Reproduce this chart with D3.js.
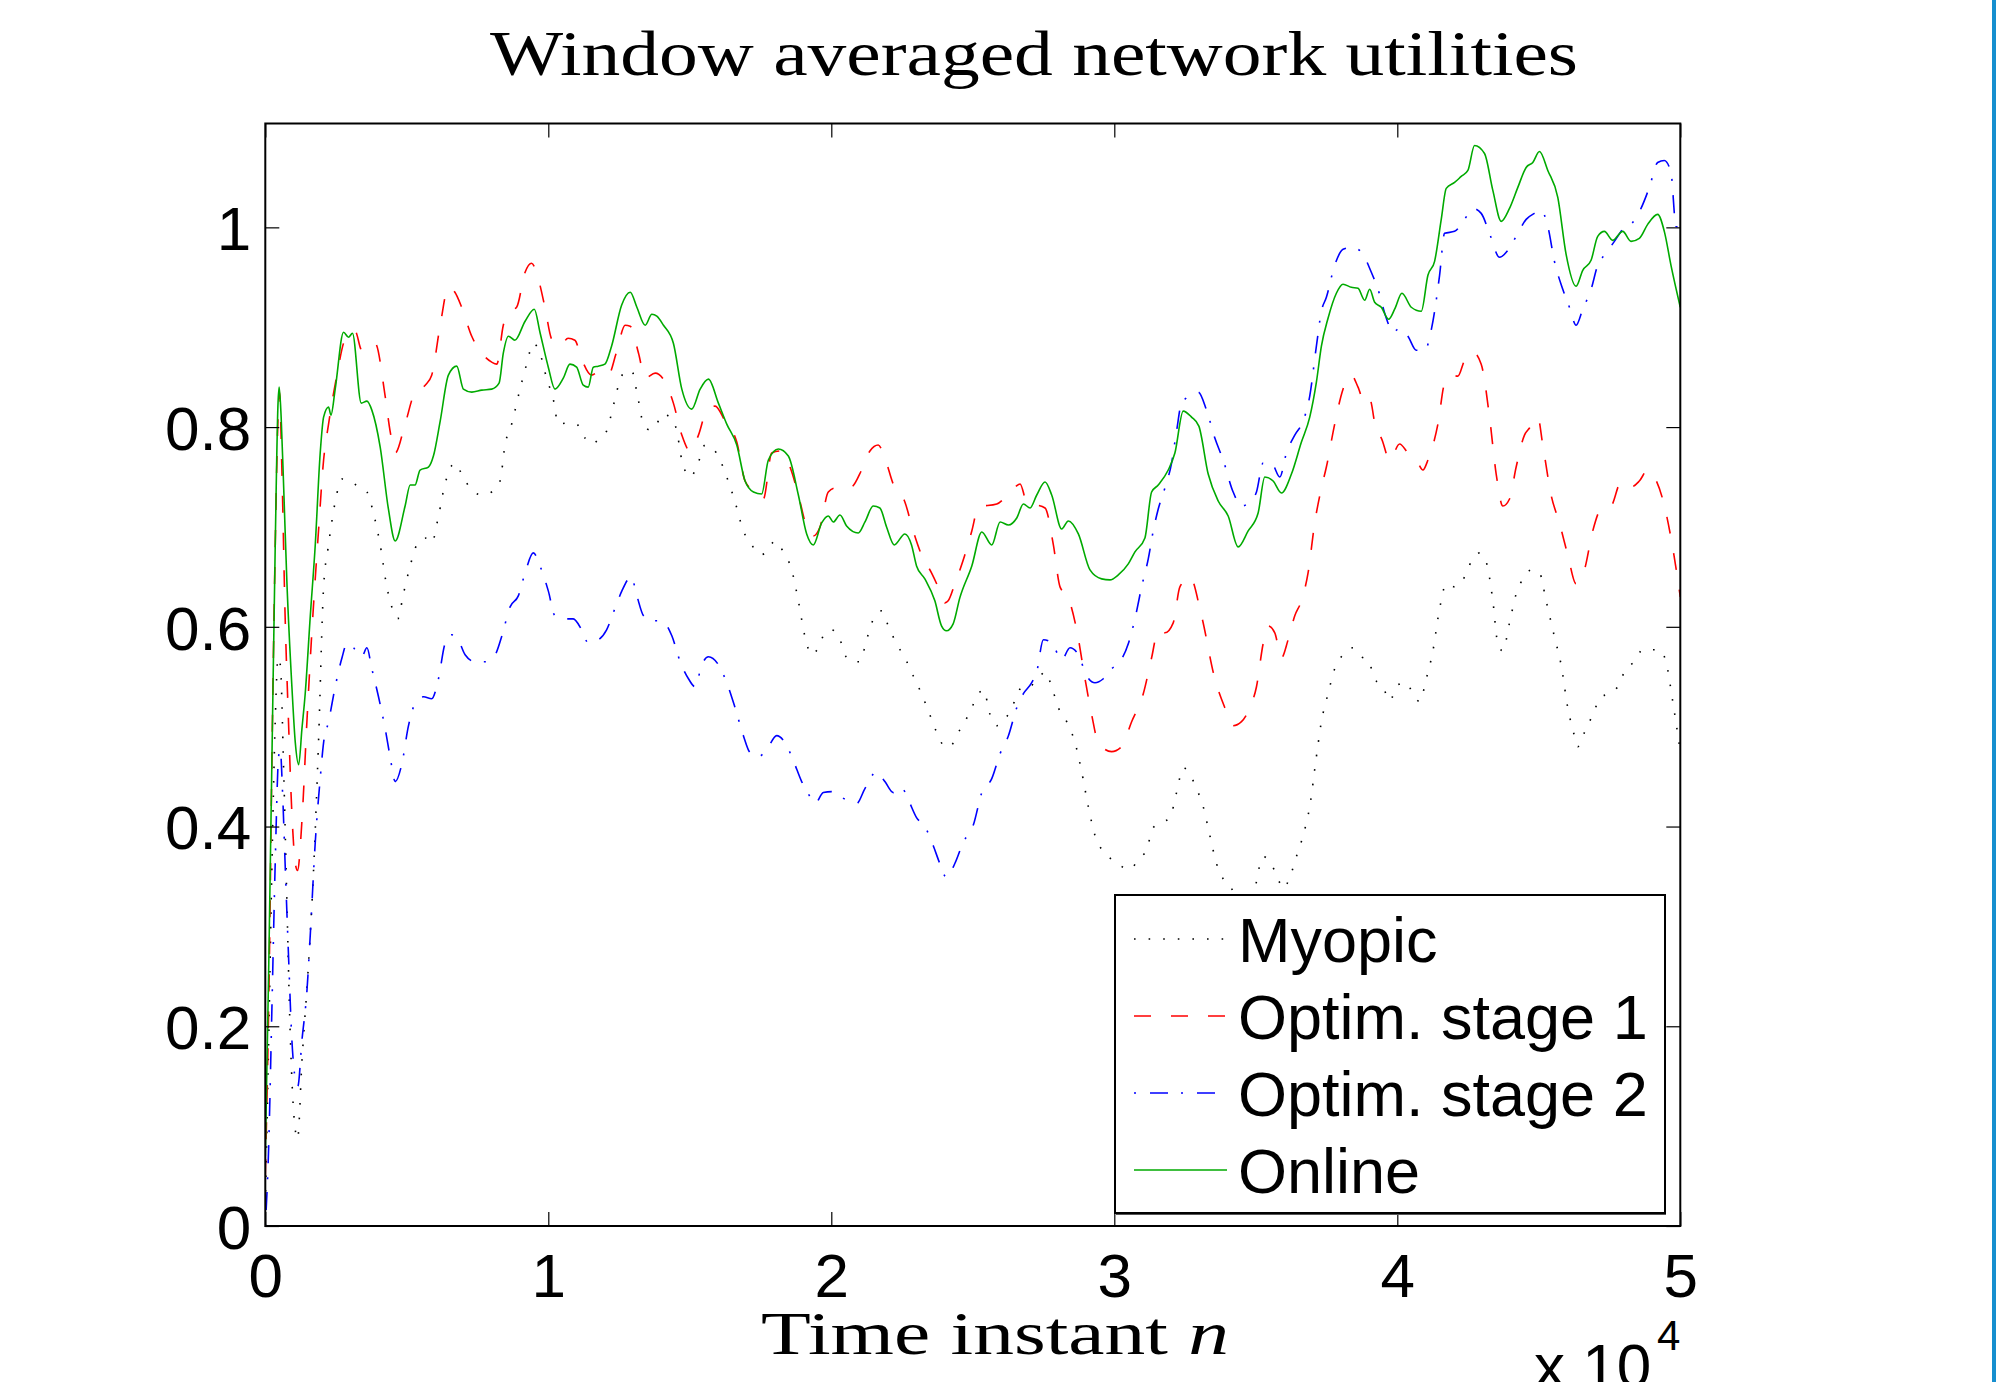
<!DOCTYPE html>
<html>
<head>
<meta charset="utf-8">
<script src="https://cdn.jsdelivr.net/npm/d3@7"></script>
<style>
  html, body { margin: 0; padding: 0; background: #ffffff; }
  svg { display: block; }
</style>
</head>
<body>
<script>
// ---------------- DATA ----------------
const xTicks = [0, 10000, 20000, 30000, 40000, 50000];
const xTickLabels = ["0", "1", "2", "3", "4", "5"];
const yTicks = [0, 0.2, 0.4, 0.6, 0.8, 1.0];
const yTickLabels = ["0", "0.2", "0.4", "0.6", "0.8", "1"];
const seriesNames = ["Myopic", "Optim. stage 1", "Optim. stage 2", "Online"];

const myopic = [[0,0.02],[120,0.186],[235,0.363],[350,0.505],[450,0.569],[530,0.562],[650,0.455],[760,0.328],[880,0.193],[1000,0.115],[1140,0.087],[1295,0.165],[1530,0.264],[1705,0.356],[1880,0.484],[2060,0.64],[2235,0.682],[2470,0.725],[2705,0.748],[3000,0.746],[3295,0.74],[3590,0.735],[3820,0.714],[4060,0.682],[4295,0.64],[4530,0.615],[4680,0.608],[4880,0.633],[5120,0.661],[5353,0.682],[5650,0.689],[5880,0.684],[6120,0.711],[6350,0.743],[6700,0.764],[6940,0.753],[7235,0.739],[7650,0.732],[8000,0.735],[8295,0.746],[8470,0.782],[8705,0.803],[9000,0.838],[9235,0.863],[9470,0.884],[9705,0.874],[9940,0.849],[10175,0.828],[10355,0.803],[10650,0.804],[11000,0.803],[11295,0.789],[11530,0.783],[11825,0.789],[12060,0.796],[12295,0.821],[12482,0.842],[12718,0.856],[12953,0.856],[13130,0.835],[13365,0.803],[13600,0.797],[13835,0.803],[14012,0.813],[14306,0.81],[14541,0.796],[14718,0.767],[15012,0.75],[15247,0.76],[15541,0.782],[15835,0.778],[16070,0.767],[16306,0.75],[16600,0.725],[16894,0.696],[17188,0.682],[17482,0.672],[17718,0.675],[18012,0.686],[18306,0.675],[18600,0.657],[18835,0.626],[19071,0.59],[19306,0.572],[19541,0.579],[19776,0.594],[20012,0.597],[20306,0.587],[20541,0.569],[20776,0.565],[21012,0.565],[21247,0.587],[21541,0.611],[21776,0.616],[22012,0.601],[22306,0.583],[22600,0.569],[22894,0.551],[23188,0.533],[23482,0.512],[23776,0.491],[24012,0.48],[24188,0.48],[24482,0.494],[24718,0.505],[24965,0.519],[25141,0.53],[25376,0.537],[25612,0.512],[25847,0.501],[26082,0.505],[26318,0.516],[26553,0.53],[26729,0.54],[26965,0.54],[27318,0.548],[27553,0.555],[27788,0.54],[28024,0.519],[28318,0.505],[28612,0.484],[28847,0.455],[29082,0.42],[29318,0.391],[29553,0.377],[29906,0.367],[30259,0.36],[30553,0.357],[30847,0.367],[31141,0.377],[31376,0.399],[31671,0.404],[31965,0.409],[32200,0.434],[32435,0.459],[32671,0.452],[32906,0.438],[33141,0.42],[33376,0.391],[33612,0.363],[33906,0.345],[34141,0.338],[34500,0.315],[34900,0.33],[35259,0.37],[35435,0.367],[35730,0.352],[35965,0.338],[36200,0.349],[36435,0.37],[36671,0.391],[36906,0.42],[37141,0.47],[37318,0.505],[37553,0.533],[37788,0.558],[38082,0.572],[38435,0.579],[38729,0.57],[38965,0.567],[39200,0.548],[39494,0.54],[39729,0.526],[40024,0.542],[40318,0.544],[40553,0.533],[40788,0.525],[41024,0.548],[41259,0.576],[41494,0.618],[41729,0.643],[42024,0.64],[42318,0.647],[42612,0.665],[42906,0.674],[43141,0.665],[43376,0.626],[43553,0.583],[43729,0.576],[43965,0.604],[44200,0.633],[44494,0.65],[44729,0.657],[45024,0.654],[45259,0.626],[45553,0.59],[45788,0.562],[46024,0.519],[46259,0.491],[46377,0.48],[46612,0.494],[46906,0.512],[47200,0.53],[47494,0.533],[47788,0.54],[48082,0.558],[48377,0.565],[48671,0.577],[48965,0.577],[49259,0.577],[49494,0.565],[49729,0.526],[50000,0.475]];

const optimStage1 = [[0,0.05],[140,0.257],[235,0.47],[350,0.68],[470,0.824],[500,0.835],[590,0.753],[700,0.611],[820,0.505],[940,0.413],[1060,0.363],[1140,0.356],[1295,0.406],[1470,0.505],[1650,0.597],[1880,0.696],[2060,0.767],[2235,0.803],[2530,0.852],[2820,0.888],[3175,0.896],[3410,0.877],[3530,0.882],[3880,0.884],[4235,0.831],[4410,0.796],[4590,0.774],[4940,0.803],[5290,0.835],[5650,0.842],[5880,0.852],[6180,0.902],[6470,0.94],[6700,0.935],[6940,0.92],[7295,0.891],[7650,0.874],[8000,0.865],[8180,0.863],[8410,0.902],[8650,0.916],[8880,0.92],[9180,0.955],[9410,0.964],[9650,0.948],[9880,0.92],[10120,0.888],[10410,0.881],[10700,0.889],[10940,0.887],[11180,0.868],[11530,0.852],[11765,0.855],[12120,0.852],[12400,0.874],[12718,0.902],[12894,0.901],[13188,0.874],[13423,0.849],[13776,0.854],[14130,0.845],[14420,0.824],[14718,0.792],[15012,0.776],[15306,0.792],[15600,0.817],[15894,0.821],[16247,0.806],[16660,0.785],[16953,0.746],[17306,0.735],[17600,0.728],[17894,0.774],[18188,0.776],[18541,0.76],[18836,0.732],[19130,0.7],[19365,0.691],[19600,0.7],[19894,0.735],[20130,0.739],[20424,0.738],[20718,0.74],[21070,0.757],[21365,0.776],[21659,0.782],[21894,0.769],[22188,0.743],[22600,0.725],[22894,0.696],[23188,0.672],[23541,0.654],[23835,0.636],[24012,0.624],[24130,0.626],[24365,0.643],[24718,0.672],[24965,0.696],[25200,0.72],[25847,0.723],[26494,0.74],[26670,0.743],[26906,0.725],[27553,0.719],[27847,0.682],[28082,0.64],[28376,0.629],[28671,0.597],[28965,0.548],[29200,0.512],[29435,0.484],[29906,0.475],[30259,0.48],[30612,0.505],[31024,0.533],[31318,0.569],[31553,0.597],[31788,0.594],[32082,0.604],[32318,0.64],[32671,0.65],[33082,0.611],[33553,0.548],[33906,0.519],[34200,0.501],[34494,0.505],[34788,0.519],[35024,0.54],[35259,0.583],[35435,0.601],[35671,0.594],[35906,0.569],[36141,0.587],[36377,0.611],[36612,0.626],[36847,0.654],[37082,0.704],[37318,0.739],[37494,0.76],[37788,0.803],[38082,0.838],[38376,0.852],[38612,0.84],[38847,0.824],[39024,0.828],[39259,0.796],[39435,0.789],[39729,0.767],[40082,0.783],[40376,0.774],[40730,0.764],[40906,0.757],[41082,0.767],[41435,0.803],[41671,0.844],[41906,0.852],[42141,0.851],[42376,0.867],[42671,0.875],[42965,0.863],[43259,0.81],[43494,0.753],[43730,0.721],[43965,0.728],[44200,0.76],[44494,0.792],[44671,0.799],[44965,0.81],[45141,0.782],[45435,0.732],[45729,0.704],[46024,0.672],[46318,0.643],[46612,0.657],[46906,0.696],[47200,0.718],[47553,0.721],[47906,0.745],[48259,0.74],[48553,0.746],[48847,0.757],[49082,0.75],[49376,0.728],[49671,0.689],[50000,0.63]];

const optimStage2 = [[0,0.0],[120,0.08],[235,0.22],[350,0.363],[470,0.47],[530,0.477],[610,0.434],[700,0.363],[820,0.271],[940,0.186],[1060,0.147],[1150,0.14],[1295,0.186],[1470,0.235],[1590,0.292],[1765,0.384],[1940,0.448],[2060,0.484],[2235,0.505],[2470,0.54],[2710,0.569],[2880,0.583],[3120,0.579],[3295,0.572],[3410,0.57],[3590,0.579],[3765,0.558],[4000,0.53],[4235,0.498],[4410,0.47],[4590,0.445],[4820,0.462],[5060,0.501],[5290,0.523],[5590,0.53],[5880,0.528],[6120,0.548],[6350,0.583],[6590,0.592],[6820,0.587],[7060,0.572],[7410,0.565],[7765,0.565],[8120,0.572],[8350,0.59],[8650,0.62],[8940,0.631],[9180,0.654],[9470,0.674],[9705,0.661],[10000,0.636],[10235,0.611],[10530,0.608],[10880,0.608],[11180,0.597],[11410,0.584],[11765,0.587],[12060,0.597],[12350,0.618],[12600,0.636],[12930,0.65],[13130,0.631],[13365,0.611],[13660,0.606],[14012,0.606],[14365,0.591],[14660,0.565],[14953,0.548],[15188,0.54],[15424,0.562],[15659,0.57],[16012,0.562],[16306,0.544],[16600,0.519],[16894,0.491],[17130,0.474],[17424,0.47],[17718,0.477],[18070,0.491],[18365,0.484],[18659,0.466],[18953,0.445],[19247,0.43],[19424,0.423],[19718,0.434],[20012,0.435],[20306,0.43],[20600,0.426],[20894,0.423],[21188,0.438],[21600,0.455],[21894,0.445],[22188,0.434],[22482,0.439],[22718,0.427],[23012,0.409],[23306,0.4],[23600,0.381],[23835,0.363],[24070,0.349],[24365,0.363],[24659,0.384],[25024,0.402],[25318,0.434],[25670,0.448],[25965,0.473],[26259,0.491],[26553,0.519],[26788,0.533],[27082,0.544],[27259,0.555],[27494,0.587],[27788,0.584],[28141,0.567],[28435,0.579],[28730,0.572],[29024,0.551],[29318,0.544],[29612,0.548],[29906,0.558],[30200,0.565],[30494,0.583],[30730,0.608],[30965,0.64],[31200,0.668],[31376,0.696],[31553,0.718],[31788,0.739],[32024,0.764],[32200,0.796],[32376,0.824],[32671,0.831],[32965,0.835],[33259,0.817],[33553,0.789],[33847,0.767],[34200,0.735],[34494,0.721],[34788,0.725],[35024,0.735],[35259,0.764],[35553,0.764],[35847,0.75],[36082,0.774],[36377,0.792],[36671,0.806],[36906,0.831],[37141,0.881],[37318,0.916],[37494,0.93],[37788,0.962],[38082,0.978],[38376,0.98],[38671,0.977],[38847,0.97],[39082,0.955],[39318,0.938],[39612,0.909],[39847,0.895],[40082,0.899],[40376,0.891],[40671,0.877],[40965,0.877],[41259,0.906],[41494,0.952],[41671,0.994],[42024,0.996],[42376,1.008],[42671,1.019],[42965,1.014],[43259,0.994],[43612,0.97],[43906,0.977],[44200,0.991],[44553,1.008],[44847,1.014],[45082,1.017],[45318,1.001],[45553,0.966],[45847,0.938],[46082,0.92],[46318,0.902],[46553,0.918],[46847,0.938],[47082,0.962],[47376,0.974],[47671,0.986],[48024,1.0],[48318,1.005],[48612,1.019],[48906,1.04],[49200,1.065],[49435,1.067],[49671,1.055],[49847,1.001],[50000,1.0]];

const online = [[0,0.07],[120,0.257],[235,0.47],[350,0.68],[450,0.824],[490,0.84],[560,0.81],[650,0.739],[760,0.647],[940,0.54],[1060,0.484],[1180,0.462],[1295,0.498],[1410,0.533],[1590,0.611],[1765,0.682],[1940,0.774],[2060,0.81],[2235,0.82],[2320,0.812],[2470,0.838],[2765,0.895],[2940,0.89],[3080,0.894],[3390,0.824],[3590,0.826],[3765,0.817],[4060,0.78],[4350,0.718],[4590,0.686],[4940,0.721],[5120,0.742],[5290,0.742],[5470,0.757],[5765,0.76],[5940,0.771],[6180,0.806],[6470,0.852],[6765,0.861],[7000,0.838],[7295,0.835],[7650,0.837],[8000,0.838],[8260,0.844],[8410,0.874],[8590,0.891],[8820,0.887],[9180,0.906],[9505,0.918],[9705,0.895],[10000,0.86],[10235,0.838],[10530,0.849],[10765,0.863],[11000,0.86],[11235,0.842],[11410,0.84],[11590,0.86],[11765,0.861],[12000,0.863],[12235,0.881],[12590,0.922],[12894,0.935],[13130,0.92],[13423,0.902],[13660,0.913],[13835,0.911],[14070,0.902],[14420,0.884],[14718,0.838],[15070,0.818],[15365,0.838],[15659,0.848],[16010,0.824],[16306,0.803],[16660,0.782],[16953,0.746],[17250,0.735],[17540,0.733],[17776,0.767],[18130,0.778],[18482,0.771],[18836,0.732],[19130,0.693],[19365,0.682],[19660,0.704],[19894,0.711],[20070,0.705],[20306,0.712],[20541,0.701],[20953,0.694],[21190,0.705],[21482,0.721],[21717,0.719],[21953,0.7],[22224,0.682],[22600,0.693],[22835,0.682],[23012,0.661],[23306,0.648],[23659,0.626],[23894,0.601],[24070,0.596],[24306,0.603],[24541,0.629],[24965,0.661],[25318,0.695],[25670,0.682],[25965,0.705],[26260,0.702],[26553,0.709],[26788,0.723],[27024,0.719],[27260,0.732],[27553,0.745],[27788,0.732],[28141,0.698],[28376,0.706],[28730,0.693],[29141,0.657],[29553,0.648],[29847,0.647],[30141,0.652],[30494,0.663],[30730,0.675],[31082,0.689],[31318,0.735],[31553,0.742],[31906,0.757],[32141,0.774],[32435,0.816],[32730,0.81],[32988,0.801],[33318,0.753],[33671,0.726],[34024,0.711],[34376,0.68],[34730,0.696],[35082,0.714],[35318,0.75],[35612,0.746],[35906,0.734],[36259,0.753],[36612,0.785],[36906,0.81],[37141,0.845],[37318,0.881],[37553,0.909],[37847,0.934],[38082,0.943],[38376,0.94],[38612,0.939],[38847,0.927],[39024,0.938],[39200,0.925],[39435,0.92],[39694,0.908],[39906,0.918],[40165,0.934],[40494,0.92],[40847,0.916],[41082,0.952],[41318,0.966],[41553,1.008],[41730,1.039],[42024,1.045],[42259,1.051],[42494,1.057],[42730,1.082],[43082,1.074],[43376,1.037],[43671,1.006],[43965,1.019],[44259,1.04],[44553,1.06],[44788,1.065],[45024,1.076],[45318,1.057],[45671,1.03],[45965,0.973],[46318,0.941],[46553,0.957],[46847,0.967],[47082,0.991],[47318,0.996],[47612,0.987],[47965,0.996],[48259,0.986],[48553,0.989],[48847,1.003],[49200,1.013],[49435,0.996],[49671,0.962],[50000,0.92]];

// ---------------- LAYOUT ----------------
const W = 1996, H = 1382;
const plot = { left: 265.3, right: 1680.3, top: 123.5, bottom: 1226 };
const xDomain = [0, 50000];
const yMax = 1.104;

const svg = d3.select("body").append("svg")
  .attr("width", W).attr("height", H)
  .attr("viewBox", `0 0 ${W} ${H}`);

svg.append("rect").attr("x", 0).attr("y", 0).attr("width", W).attr("height", H).attr("fill", "#ffffff");

const x = d3.scaleLinear().domain(xDomain).range([plot.left, plot.right]);
const y = d3.scaleLinear().domain([0, yMax]).range([plot.bottom, plot.top]);

// clip
svg.append("defs").append("clipPath").attr("id", "plotClip")
  .append("rect")
  .attr("x", plot.left).attr("y", plot.top)
  .attr("width", plot.right - plot.left).attr("height", plot.bottom - plot.top);

const styles = [
  { data: myopic,      color: "#000000", dash: "1.6,13", width: 1.6 },
  { data: optimStage1, color: "#ff0000", dash: "17,20",  width: 1.6 },
  { data: optimStage2, color: "#0000ff", dash: "2,14,18,13", width: 1.6 },
  { data: online,      color: "#00aa00", dash: null,     width: 1.6 }
];

const line = d3.line()
  .x(d => x(d[0]))
  .y(d => y(d[1]))
  .curve(d3.curveMonotoneX);

const lines = svg.append("g").attr("clip-path", "url(#plotClip)");
styles.forEach(s => {
  lines.append("path")
    .datum(s.data)
    .attr("d", line)
    .attr("fill", "none")
    .attr("stroke", s.color)
    .attr("stroke-width", s.width)
    .attr("stroke-dasharray", s.dash)
    .attr("stroke-linejoin", "round");
});

// ---------------- AXES ----------------
const tickLen = 14;
const fontSans = "'Liberation Sans', Arial, Helvetica, sans-serif";
const fontSerif = "'Liberation Serif', 'Times New Roman', serif";

// bottom axis (ticks inward) via d3.axisBottom
const xAxisBottom = d3.axisBottom(x).tickValues(xTicks)
  .tickFormat((d, i) => xTickLabels[i]).tickSize(-tickLen).tickPadding(30);
const gxb = svg.append("g").attr("transform", `translate(0,${plot.bottom})`).call(xAxisBottom);
gxb.select(".domain").remove();
gxb.selectAll(".tick line").attr("stroke", "#000").attr("stroke-width", 1.2);
gxb.selectAll(".tick text").attr("font-family", fontSans).attr("font-size", 62)
  .attr("fill", "#000").attr("dy", "0").attr("y", 71);

// top axis ticks
const xAxisTop = d3.axisTop(x).tickValues(xTicks).tickFormat("").tickSize(-tickLen);
const gxt = svg.append("g").attr("transform", `translate(0,${plot.top})`).call(xAxisTop);
gxt.select(".domain").remove();
gxt.selectAll(".tick line").attr("stroke", "#000").attr("stroke-width", 1.2);

// left axis
const yAxisLeft = d3.axisLeft(y).tickValues(yTicks)
  .tickFormat((d, i) => yTickLabels[i]).tickSize(-tickLen).tickPadding(18);
const gyl = svg.append("g").attr("transform", `translate(${plot.left},0)`).call(yAxisLeft);
gyl.select(".domain").remove();
gyl.selectAll(".tick line").attr("stroke", "#000").attr("stroke-width", 1.2);
gyl.selectAll(".tick text").attr("font-family", fontSans).attr("font-size", 62)
  .attr("fill", "#000").attr("x", -14).attr("dy", "0.36em");

// right axis ticks
const yAxisRight = d3.axisRight(y).tickValues(yTicks).tickFormat("").tickSize(-tickLen);
const gyr = svg.append("g").attr("transform", `translate(${plot.right},0)`).call(yAxisRight);
gyr.select(".domain").remove();
gyr.selectAll(".tick line").attr("stroke", "#000").attr("stroke-width", 1.2);

// frame
svg.append("rect")
  .attr("x", plot.left).attr("y", plot.top)
  .attr("width", plot.right - plot.left).attr("height", plot.bottom - plot.top)
  .attr("fill", "none").attr("stroke", "#000").attr("stroke-width", 2);

// ---------------- TITLE & LABELS ----------------
svg.append("text")
  .attr("x", 1034).attr("y", 75)
  .attr("text-anchor", "middle")
  .attr("font-family", fontSerif).attr("font-size", 64)
  .attr("textLength", 1088).attr("lengthAdjust", "spacingAndGlyphs")
  .attr("fill", "#000")
  .text("Window averaged network utilities");

const xl = svg.append("text")
  .attr("x", 995).attr("y", 1354)
  .attr("text-anchor", "middle")
  .attr("font-family", fontSerif).attr("font-size", 62)
  .attr("textLength", 468).attr("lengthAdjust", "spacingAndGlyphs")
  .attr("fill", "#000");
xl.append("tspan").text("Time instant ");
xl.append("tspan").attr("font-style", "italic").text("n");

// x 10^4 multiplier
const mult = svg.append("text")
  .attr("x", 1534).attr("y", 1387)
  .attr("font-family", fontSans).attr("font-size", 62)
  .attr("fill", "#000");
mult.append("tspan").text("x 10");
svg.append("text")
  .attr("x", 1657).attr("y", 1350)
  .attr("font-family", fontSans).attr("font-size", 42)
  .attr("fill", "#000").text("4");

// ---------------- LEGEND ----------------
const leg = { x: 1115, y: 895, w: 550, h: 318 };
svg.append("rect")
  .attr("x", leg.x).attr("y", leg.y).attr("width", leg.w).attr("height", leg.h)
  .attr("fill", "#ffffff").attr("stroke", "#000").attr("stroke-width", 2);
svg.append("line")
  .attr("x1", leg.x + 1).attr("x2", leg.x + leg.w + 1)
  .attr("y1", leg.y + leg.h + 1.5).attr("y2", leg.y + leg.h + 1.5)
  .attr("stroke", "#555").attr("stroke-width", 1);

const rowY = [939, 1016, 1093, 1170];
styles.forEach((s, i) => {
  svg.append("line")
    .attr("x1", 1134).attr("x2", 1227)
    .attr("y1", rowY[i]).attr("y2", rowY[i])
    .attr("stroke", s.color).attr("stroke-width", s.width)
    .attr("stroke-dasharray", s.dash);
  svg.append("text")
    .attr("x", 1238).attr("y", rowY[i] + 23)
    .attr("font-family", fontSans).attr("font-size", 63)
    .attr("fill", "#000")
    .text(seriesNames[i]);
});

// right window edge bar
svg.append("rect").attr("x", 1992).attr("y", 0).attr("width", 4).attr("height", H).attr("fill", "#168fcf");
</script>
</body>
</html>
